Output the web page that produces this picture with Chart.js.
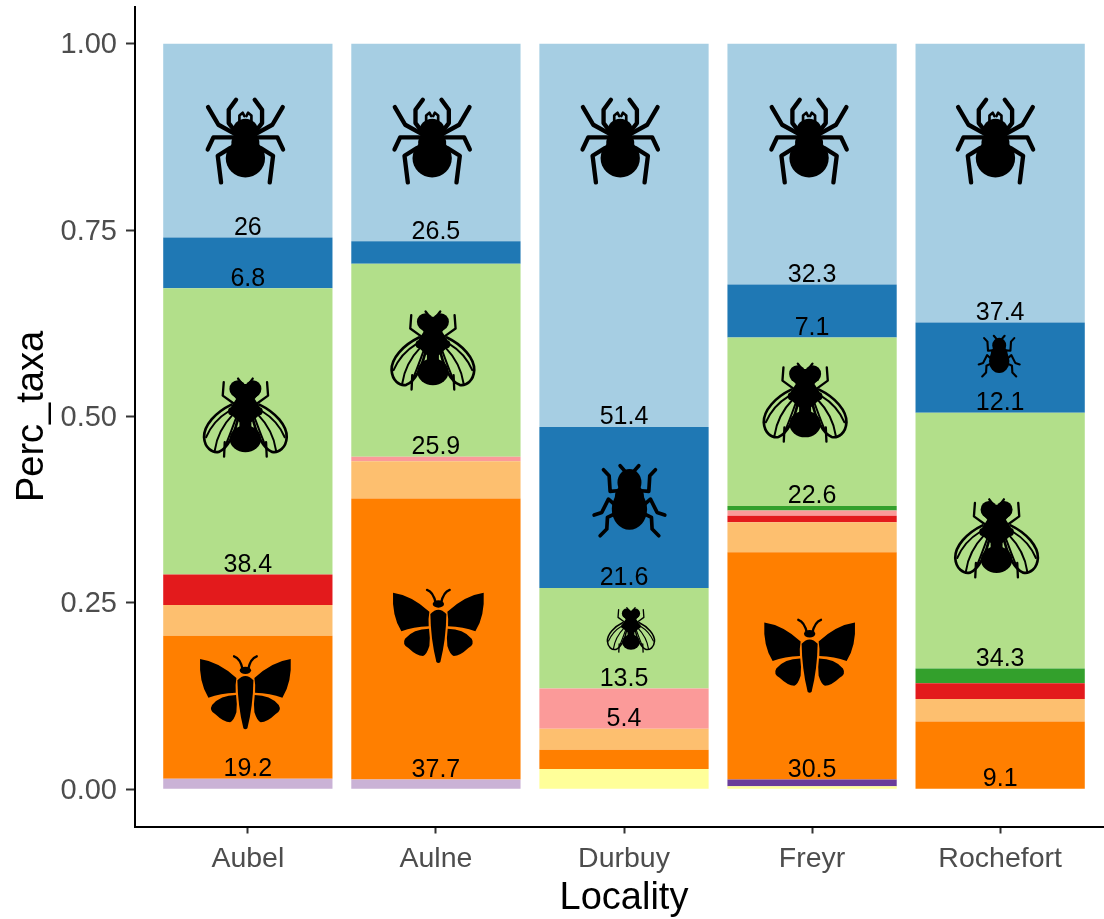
<!DOCTYPE html>
<html>
<head>
<meta charset="utf-8">
<title>Perc_taxa by locality</title>
<script src="https://cdn.jsdelivr.net/npm/chart.js@4"></script>
<style>
  html, body { margin: 0; padding: 0; background: #fff; overflow: hidden; }
  #wrap { width: 1104px; height: 919px; overflow: hidden; }
</style>
</head>
<body>
<div id="wrap"><canvas id="taxaChart" width="1113" height="919"></canvas></div>
<script>
const categories = ['Aubel', 'Aulne', 'Durbuy', 'Freyr', 'Rochefort'];
const yTicks = [0, 0.25, 0.5, 0.75, 1];

// series, top of the stack first
const lightBlue   = [0.26, 0.265, 0.514, 0.323, 0.374];
const blue        = [0.068, 0.03, 0.216, 0.071, 0.121];
const lightGreen  = [0.384, 0.259, 0.135, 0.226, 0.343];
const green       = [0, 0, 0, 0.006, 0.02];
const pink        = [0, 0.006, 0.054, 0.007, 0];
const red         = [0.041, 0, 0, 0.009, 0.021];
const lightOrange = [0.041, 0.05, 0.028, 0.04, 0.03];
const orange      = [0.192, 0.377, 0.026, 0.305, 0.091];
const lavender    = [0.014, 0.013, 0, 0, 0];
const purple      = [0, 0, 0, 0.009, 0];
const yellow      = [0, 0, 0.027, 0.004, 0];

// printed labels, null where the segment has none
const lightBlueLabels  = ['26', '26.5', '51.4', '32.3', '37.4'];
const blueLabels       = ['6.8', null, '21.6', '7.1', '12.1'];
const lightGreenLabels = ['38.4', '25.9', '13.5', '22.6', '34.3'];
const pinkLabels       = [null, null, '5.4', null, null];
const orangeLabels     = ['19.2', '37.7', null, '30.5', '9.1'];

// insect pictograms, placed in axis units
const spiders = [[0.987, 0.869], [1.98, 0.869], [2.98, 0.869], [3.984, 0.869], [4.975, 0.869]];
const flies = [[0.987, 0.499, 1], [1.984, 0.589, 1], [3.963, 0.519, 1], [4.981, 0.337, 1], [3.037, 0.214, 0.57]];
const moths = [[0.987, 0.13], [2.013, 0.219], [3.987, 0.179]];
const beetles = [[3.029, 0.387, 1], [4.995, 0.581, 0.58]];

function mirrored(ctx, draw) {
  draw();
  ctx.save();
  ctx.scale(-1, 1);
  draw();
  ctx.restore();
}

function polyline(ctx, pts) {
  ctx.beginPath();
  ctx.moveTo(pts[0][0], pts[0][1]);
  for (let i = 1; i < pts.length; i++) ctx.lineTo(pts[i][0], pts[i][1]);
  ctx.stroke();
}

function oval(ctx, x, y, rx, ry) {
  ctx.beginPath();
  ctx.ellipse(x, y, rx, ry, 0, 0, Math.PI * 2);
  ctx.fill();
}

// all icons are written in a 3x grid around their own centre
function spider(ctx) {
  oval(ctx, 0, 50, 59, 58);
  oval(ctx, 0, 5, 42, 40);
  oval(ctx, 0, -32, 38, 36);
  mirrored(ctx, function () {
    ctx.lineWidth = 13;
    polyline(ctx, [[-30, -22], [-81, -50], [-112, -103]]);
    polyline(ctx, [[-36, -37], [-50, -55], [-50, -95], [-28, -125]]);
    polyline(ctx, [[-30, -12], [-96, -12], [-113, 24]]);
    polyline(ctx, [[-46, 20], [-83, 43], [-73, 123]]);
    ctx.lineWidth = 8;
    polyline(ctx, [[-18, -62], [-18, -78], [-8, -86], [-3, -76]]);
  });
}

function fly(ctx) {
  oval(ctx, -23, -85, 25, 26);
  oval(ctx, 23, -85, 25, 26);
  oval(ctx, 0, 65, 47, 40);
  ctx.beginPath();
  ctx.moveTo(-30, -100);
  ctx.lineTo(30, -100);
  ctx.lineTo(40, -70);
  ctx.lineTo(28, -55);
  ctx.lineTo(44, -30);
  ctx.lineTo(40, -5);
  ctx.lineTo(18, 15);
  ctx.lineTo(18, 40);
  ctx.lineTo(-18, 40);
  ctx.lineTo(-18, 15);
  ctx.lineTo(-40, -5);
  ctx.lineTo(-44, -30);
  ctx.lineTo(-28, -55);
  ctx.lineTo(-40, -70);
  ctx.closePath();
  ctx.fill();
  mirrored(ctx, function () {
    ctx.lineWidth = 7;
    polyline(ctx, [[-36, -42], [-68, -65], [-65, -105]]);
    polyline(ctx, [[-62, 75], [-64, 118]]);
    polyline(ctx, [[-10, -100], [-22, -116]]);
    // wing outline
    ctx.lineWidth = 8;
    ctx.beginPath();
    ctx.moveTo(-42, -38);
    ctx.bezierCurveTo(-90, -15, -125, 25, -124, 60);
    ctx.bezierCurveTo(-122, 92, -100, 108, -80, 104);
    ctx.bezierCurveTo(-55, 95, -30, 50, -20, -8);
    ctx.stroke();
    // veins
    ctx.lineWidth = 6;
    ctx.beginPath();
    ctx.moveTo(-50, -18);
    ctx.bezierCurveTo(-80, 0, -105, 30, -118, 60);
    ctx.moveTo(-36, -10);
    ctx.bezierCurveTo(-60, 15, -85, 50, -92, 100);
    ctx.moveTo(-25, -6);
    ctx.bezierCurveTo(-35, 20, -45, 50, -60, 85);
    ctx.stroke();
    oval(ctx, -42, -18, 10, 12);
  });
}

function moth(ctx) {
  mirrored(ctx, function () {
    ctx.beginPath();
    ctx.moveTo(-136, -100);
    ctx.quadraticCurveTo(-80, -92, -27, -43);
    ctx.quadraticCurveTo(-31, -20, -29, 1);
    ctx.quadraticCurveTo(-75, 3, -111, 16);
    ctx.quadraticCurveTo(-140, -30, -136, -100);
    ctx.fill();
    ctx.beginPath();
    ctx.moveTo(-28, 8);
    ctx.quadraticCurveTo(-75, 8, -100, 38);
    ctx.quadraticCurveTo(-110, 55, -90, 66);
    ctx.quadraticCurveTo(-65, 90, -46, 90);
    ctx.quadraticCurveTo(-36, 88, -27, 60);
    ctx.quadraticCurveTo(-24, 35, -28, 8);
    ctx.fill();
    ctx.lineWidth = 7;
    ctx.beginPath();
    ctx.moveTo(-8, -68);
    ctx.quadraticCurveTo(-15, -102, -34, -108);
    ctx.stroke();
  });
  ctx.beginPath();
  ctx.moveTo(-24, -36);
  ctx.quadraticCurveTo(0, -62, 24, -36);
  ctx.quadraticCurveTo(23, 40, 6, 108);
  ctx.quadraticCurveTo(0, 114, -6, 108);
  ctx.quadraticCurveTo(-23, 40, -24, -36);
  ctx.fill();
  oval(ctx, 0, -66, 17, 11);
}

function beetle(ctx) {
  oval(ctx, 0, 25, 53, 62);
  oval(ctx, 0, -10, 44, 45);
  oval(ctx, 0, -55, 36, 40);
  mirrored(ctx, function () {
    ctx.lineWidth = 11;
    polyline(ctx, [[-13, -88], [-28, -105]]);
    polyline(ctx, [[-36, -30], [-58, -28], [-61, -75], [-78, -93]]);
    polyline(ctx, [[-46, 10], [-63, -5], [-83, 35], [-106, 43]]);
    polyline(ctx, [[-46, 40], [-66, 50], [-68, 85], [-88, 105]]);
  });
}

const iconsPlugin = {
  id: 'insects',
  afterDatasetsDraw(chart) {
    const ctx = chart.ctx;
    const place = function (list, draw) {
      list.forEach(function (p) {
        const k = (p[2] || 1) / 3;
        ctx.save();
        ctx.translate(chart.scales.x.getPixelForValue(p[0]), chart.scales.y.getPixelForValue(p[1]));
        ctx.scale(k, k);
        ctx.fillStyle = '#000';
        ctx.strokeStyle = '#000';
        ctx.lineCap = 'round';
        ctx.lineJoin = 'round';
        draw(ctx);
        ctx.restore();
      });
    };
    place(spiders, spider);
    place(flies, fly);
    place(moths, moth);
    place(beetles, beetle);
  }
};

// the numbers sit just above the base of their segment
const segmentLabels = {
  id: 'segmentLabels',
  afterDatasetsDraw(chart) {
    const ctx = chart.ctx;
    ctx.save();
    ctx.font = '25px "Liberation Sans"';
    ctx.fillStyle = '#000';
    ctx.textAlign = 'center';
    ctx.textBaseline = 'alphabetic';
    chart.data.datasets.forEach(function (ds, d) {
      if (!ds.segmentText) return;
      chart.getDatasetMeta(d).data.forEach(function (bar, i) {
        if (ds.segmentText[i]) ctx.fillText(ds.segmentText[i], bar.x, bar.base - 2.5);
      });
    });
    ctx.restore();
  }
};

function series(values, color, text) {
  return {
    data: values.map(function (v, i) { return { x: i + 1, y: v }; }),
    backgroundColor: color,
    borderWidth: 0,
    segmentText: text,
    barPercentage: 0.9,
    categoryPercentage: 1
  };
}

new Chart(document.getElementById('taxaChart'), {
  type: 'bar',
  data: {
    datasets: [
      series(yellow, '#ffff99'),
      series(purple, '#6a3d9a'),
      series(lavender, '#cab2d6'),
      series(orange, '#ff7f00', orangeLabels),
      series(lightOrange, '#fdbf6f'),
      series(red, '#e31a1c'),
      series(pink, '#fb9a99', pinkLabels),
      series(green, '#33a02c'),
      series(lightGreen, '#b2df8a', lightGreenLabels),
      series(blue, '#1f78b4', blueLabels),
      series(lightBlue, '#a6cee3', lightBlueLabels)
    ]
  },
  options: {
    responsive: false,
    animation: false,
    layout: { padding: { top: 6.5, left: 0, right: 0, bottom: 0 } },
    plugins: { legend: { display: false }, tooltip: { enabled: false } },
    scales: {
      x: {
        type: 'linear',
        stacked: true,
        offset: false,
        min: 0.4,
        max: 5.6,
        afterBuildTicks(axis) {
          axis.ticks = categories.map(function (c, i) { return { value: i + 1 }; });
        },
        afterFit(axis) {
          axis.height = 92.5;
          axis.paddingLeft = 0;
          axis.paddingRight = 0;
        },
        border: { display: true, color: '#000', width: 2 },
        grid: { offset: false, drawOnChartArea: false, tickColor: '#333', tickWidth: 2, tickLength: 7 },
        ticks: {
          autoSkip: false,
          maxRotation: 0,
          padding: 9,
          color: '#4d4d4d',
          font: { family: 'Liberation Sans', size: 28.5 },
          callback(value) { return categories[value - 1]; }
        },
        title: {
          display: true,
          text: 'Locality',
          color: '#000',
          font: { family: 'Liberation Sans', size: 38 },
          padding: { top: 0, bottom: -2 }
        }
      },
      y: {
        stacked: true,
        min: -0.05,
        max: 1.05,
        afterBuildTicks(axis) {
          axis.ticks = yTicks.map(function (v) { return { value: v }; });
        },
        afterFit(axis) {
          axis.width = 135;
          axis.paddingTop = 0;
          axis.paddingBottom = 0;
        },
        border: { display: true, color: '#000', width: 2 },
        grid: { drawOnChartArea: false, tickColor: '#333', tickWidth: 2, tickLength: 9 },
        ticks: {
          padding: 9,
          labelOffset: 1.5,
          color: '#4d4d4d',
          font: { family: 'Liberation Sans', size: 29 },
          callback(value) { return value.toFixed(2); }
        },
        title: {
          display: true,
          text: 'Perc_taxa',
          color: '#000',
          font: { family: 'Liberation Sans', size: 38 },
          padding: { top: 10, bottom: 0 }
        }
      }
    }
  },
  plugins: [segmentLabels, iconsPlugin]
});
</script>
</body>
</html>
